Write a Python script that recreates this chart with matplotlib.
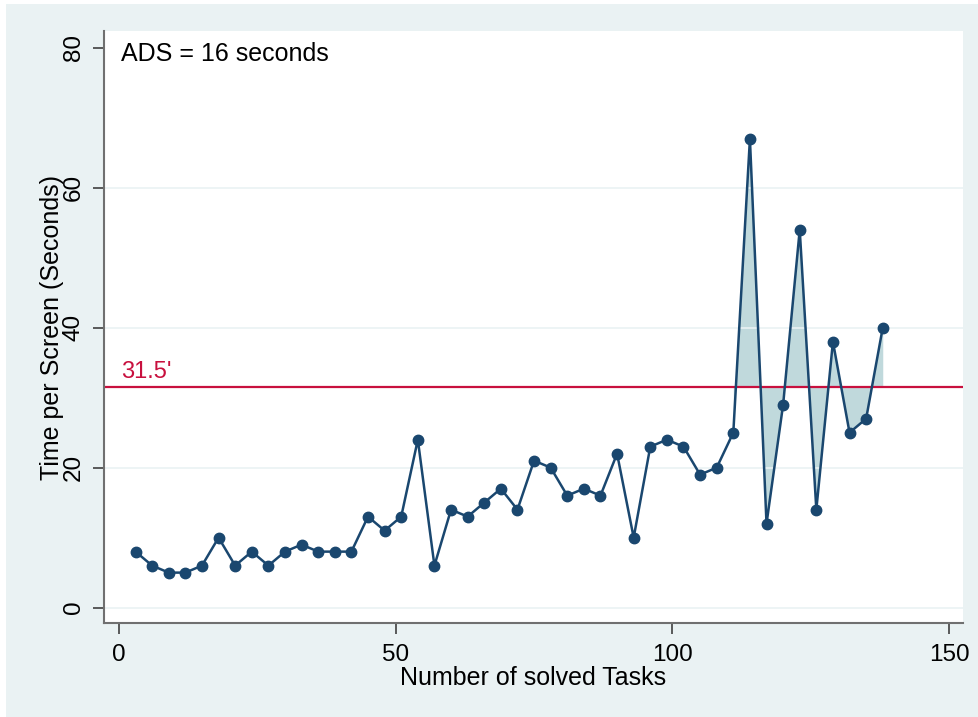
import numpy as np
import matplotlib
matplotlib.use("Agg")
import matplotlib.pyplot as plt
from matplotlib.patches import Rectangle

# solved task number and time per screen (seconds)
tasks = np.arange(3, 139, 3)
seconds = [8, 6, 5, 5, 6, 10, 6, 8, 6, 8, 9, 8, 8, 8, 13, 11, 13, 24, 6, 14,
           13, 15, 17, 14, 21, 20, 16, 17, 16, 22, 10, 23, 24, 23, 19, 20, 25,
           67, 12, 29, 54, 14, 38, 25, 27, 40]
threshold = 31.5
fill_start = 111
ads_text = "ADS = 16 seconds"
x_ticks = [0, 50, 100, 150]
y_ticks = [0, 20, 40, 60, 80]

plt.rcParams['font.family'] = ['Liberation Sans', 'DejaVu Sans']

navy = "#1a476f"
bg = "#eaf2f3"
red = "#c8103e"

fig = plt.figure(figsize=(9.79, 7.17), dpi=100, facecolor="white")
fig.patches.append(Rectangle((6 / 979, 0), 1 - 6 / 979, 713 / 717,
                             transform=fig.transFigure, facecolor=bg,
                             edgecolor="none", zorder=-10))

ax = fig.add_axes([104 / 979, 94 / 717, 859 / 979, 592 / 717])
ax.set_facecolor("white")

seconds = np.array(seconds)
mask = tasks >= fill_start
ax.fill_between(tasks[mask], seconds[mask], threshold, color="#c0d9dc",
                linewidth=0, zorder=1)

for yv in y_ticks[:-1]:
    ax.axhline(yv, color=bg, linewidth=1.2, zorder=1.5)

ax.axhline(threshold, color=red, linewidth=1.6, zorder=2)
ax.plot(tasks, seconds, color=navy, linewidth=1.8, marker="o",
        markersize=7.5, zorder=3)

ax.text(0.0198, 0.961, ads_text, transform=ax.transAxes, fontsize=18,
        va="center", ha="left", color="black")
ax.text(0.0198, threshold + 0.6, "31.5'", fontsize=17, color=red,
        transform=ax.get_yaxis_transform(), ha="left", va="bottom")

ax.set_xlim(-2.7, 152.5)
ax.set_ylim(-2.2, 82.4)
ax.set_xticks(x_ticks)
ax.set_yticks(y_ticks)
ax.tick_params(axis="both", labelsize=17.5, length=8, width=1.2,
               color="#404040")
ax.tick_params(axis="x", pad=7)
ax.tick_params(axis="y", pad=6)
for lab in ax.get_yticklabels():
    lab.set_rotation(90)
    lab.set_va("center")

for side in ["top", "right"]:
    ax.spines[side].set_visible(False)
for side in ["left", "bottom"]:
    ax.spines[side].set_color("#707070")
    ax.spines[side].set_linewidth(1.5)

ax.set_xlabel("Number of solved Tasks", fontsize=18, labelpad=0)
ax.set_ylabel("Time per Screen (Seconds)", fontsize=18, labelpad=-1)

fig.savefig("out.png", dpi=100, facecolor="white")
